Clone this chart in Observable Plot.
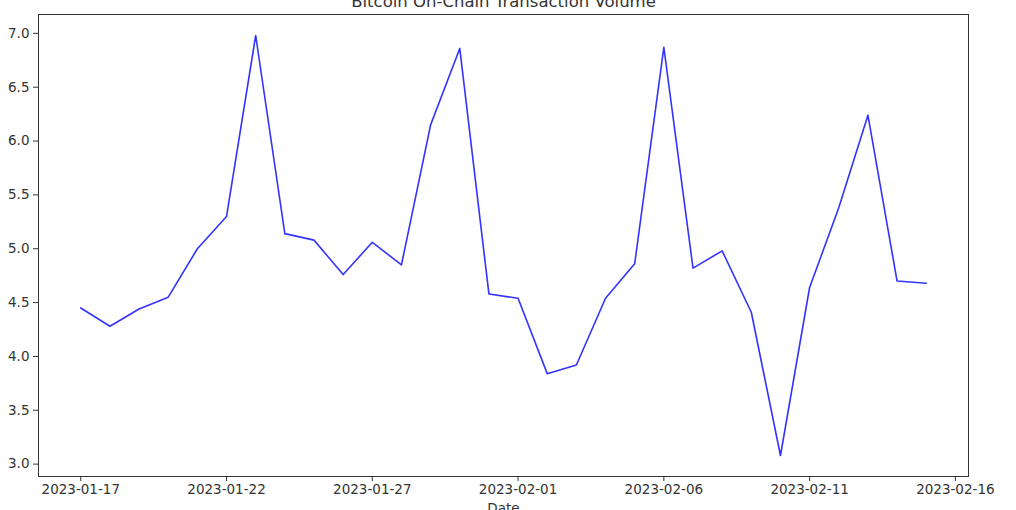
<!DOCTYPE html>
<html>
<head>
<meta charset="utf-8">
<script src="https://cdn.jsdelivr.net/npm/d3@7"></script>
<script src="https://cdn.jsdelivr.net/npm/@observablehq/plot@0.6"></script>
<style>
  html, body { margin: 0; padding: 0; background: #fff; }
  #chart svg { display: block; overflow: hidden; }
</style>
</head>
<body>
<div id="chart"></div>
<script>
const title = "Bitcoin On-Chain Transaction Volume";
const xLabel = "Date";
const startDate = "2023-01-17";
const volumes = [
  4.45, 4.28, 4.44, 4.55, 5.00, 5.30, 6.98, 5.14, 5.08, 4.76,
  5.06, 4.85, 6.15, 6.86, 4.58, 4.54, 3.84, 3.92, 4.54, 4.86,
  6.87, 4.82, 4.98, 4.41, 3.08, 4.64, 5.38, 6.24, 4.70, 4.68
];
const xTickDates = ["2023-01-17","2023-01-22","2023-01-27","2023-02-01","2023-02-06","2023-02-11","2023-02-16"];
const yTicks = [3.0, 3.5, 4.0, 4.5, 5.0, 5.5, 6.0, 6.5, 7.0];

const day = 86400000;
const t0 = new Date(startDate + "T00:00:00Z");
const data = volumes.map((v, i) => ({date: new Date(+t0 + i * day), value: v}));
const xt = xTickDates.map(d => new Date(d + "T00:00:00Z"));

const first = data[0].date, last = data[data.length - 1].date;
const xpad = (last - first) * 0.05;
const ymin = d3.min(volumes), ymax = d3.max(volumes);
const ypad = (ymax - ymin) * 0.05;

const font = "DejaVu Sans, sans-serif";
const plot = Plot.plot({
  width: 1016,
  height: 510,
  marginLeft: 38,
  marginRight: 48,
  marginTop: 14,
  marginBottom: 34,
  style: {fontFamily: font, fontSize: "13.5px", color: "#333", background: "#fff"},
  x: {type: "utc", domain: [new Date(+first - xpad), new Date(+last + xpad)]},
  y: {domain: [ymin - ypad, ymax + ypad]},
  marks: [
    Plot.frame({stroke: "#333", strokeWidth: 1}),
    Plot.axisX({ticks: xt, tickFormat: d3.utcFormat("%Y-%m-%d"), tickSize: 5, tickPadding: 3, label: null, stroke: "#333", fill: "#333"}),
    Plot.axisY({ticks: yTicks, tickFormat: d3.format(".1f"), tickSize: 5, tickPadding: 4, label: null, stroke: "#333", fill: "#333"}),
    Plot.line(data, {x: "date", y: "value", stroke: "#3333ff", strokeWidth: 1.6}),
    Plot.text([title], {frameAnchor: "top", lineAnchor: "bottom", dy: -8, fontSize: 16.5, fill: "#333"}),
    Plot.text([xLabel], {frameAnchor: "bottom", lineAnchor: "top", dy: 27, fontSize: 13.5, fill: "#333"})
  ]
});
document.getElementById("chart").appendChild(plot);
</script>
</body>
</html>
